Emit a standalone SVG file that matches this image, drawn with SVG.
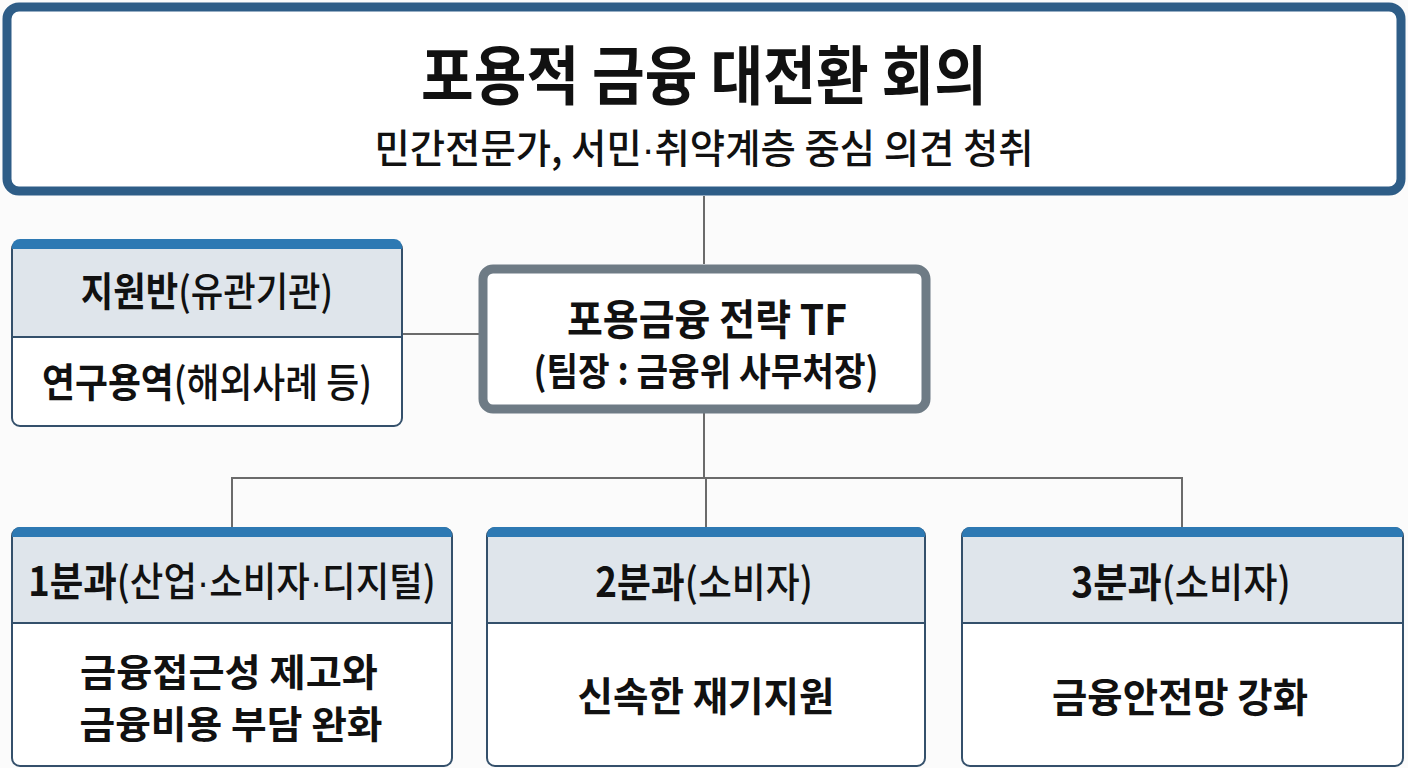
<svg xmlns="http://www.w3.org/2000/svg" width="1408" height="768" viewBox="0 0 1408 768">
<style>
text{font-family:"Noto Sans CJK KR","Noto Sans",sans-serif;fill:#111;text-anchor:middle}
.b{font-weight:700}
.m{font-weight:500}
.dot{font-family:"Liberation Sans",sans-serif}
.frame{fill:#fff;stroke:#34506b;stroke-width:2}
.head{fill:#dfe5eb}
.band{fill:#2d79b3}
.div{stroke:#34506b;stroke-width:2}
.conn{fill:none;stroke:#6b6b6b;stroke-width:2}
</style>
<rect width="1408" height="768" fill="#fbfbfb"/>
<g id="connectors">
<path class="conn" d="M704 196V264"/>
<path class="conn" d="M402 334H479"/>
<path class="conn" d="M704 413V478M232 527V478H1182V527M706 478V527"/>
</g>
<g id="top">
<rect x="7" y="7" width="1394" height="184" rx="12" fill="#fff" stroke="#2e5d87" stroke-width="9"/>
<text class="b" x="704" y="99" font-size="64" textLength="566" lengthAdjust="spacingAndGlyphs">포용적 금융 대전환 회의</text>
<text class="m" transform="translate(704 163) scale(0.96 1)" font-size="40">민간전문가, 서민<tspan class="dot">·</tspan>취약계층 중심 의견 청취</text>
</g>
<g id="support">
<rect class="frame" x="12" y="241" width="390" height="185" rx="8"/>
<path class="head" d="M13 249H401V337H13Z"/>
<path class="band" d="M12 249V247a8 8 0 0 1 8-8H394a8 8 0 0 1 8 8V249Z"/>
<line class="div" x1="12" y1="337" x2="402" y2="337"/>
<text transform="translate(207 306) scale(0.882 1)" font-size="40"><tspan class="b">지원반</tspan><tspan class="m">(유관기관)</tspan></text>
<text transform="translate(207 397) scale(0.895 1)" font-size="40"><tspan class="b">연구용역</tspan><tspan class="m">(해외사례 등)</tspan></text>
</g>
<g id="tf">
<rect x="483" y="269" width="443" height="140" rx="10" fill="#fff" stroke="#6e7b85" stroke-width="9"/>
<text class="b" x="707" y="335" font-size="42" textLength="280" lengthAdjust="spacingAndGlyphs">포용금융 전략 TF</text>
<text class="b" x="706" y="385" font-size="38" textLength="345" lengthAdjust="spacingAndGlyphs">(팀장 : 금융위 사무처장)</text>
</g>
<g id="div1">
<rect class="frame" x="12" y="528" width="440" height="238" rx="8"/>
<path class="head" d="M13 536H451V623H13Z"/>
<path class="band" d="M12 537V535a8 8 0 0 1 8-8H444a8 8 0 0 1 8 8V537Z"/>
<line class="div" x1="12" y1="623" x2="452" y2="623"/>
<text transform="translate(232 596) scale(0.913 1)" font-size="40"><tspan class="b">1분과</tspan><tspan class="m">(산업<tspan class="dot">·</tspan>소비자<tspan class="dot">·</tspan>디지털)</tspan></text>
<text class="b" x="229" y="686" font-size="38" textLength="298" lengthAdjust="spacingAndGlyphs">금융접근성 제고와</text>
<text class="b" x="231" y="738" font-size="38" textLength="303" lengthAdjust="spacingAndGlyphs">금융비용 부담 완화</text>
</g>
<g id="div2">
<rect class="frame" x="487" y="528" width="438" height="238" rx="8"/>
<path class="head" d="M488 536H924V623H488Z"/>
<path class="band" d="M487 537V535a8 8 0 0 1 8-8H917a8 8 0 0 1 8 8V537Z"/>
<line class="div" x1="487" y1="623" x2="925" y2="623"/>
<text transform="translate(704 597) scale(0.922 1)" font-size="40"><tspan class="b">2분과</tspan><tspan class="m">(소비자)</tspan></text>
<text class="b" x="706" y="711" font-size="40" textLength="257" lengthAdjust="spacingAndGlyphs">신속한 재기지원</text>
</g>
<g id="div3">
<rect class="frame" x="962" y="528" width="441" height="238" rx="8"/>
<path class="head" d="M963 536H1402V623H963Z"/>
<path class="band" d="M962 537V535a8 8 0 0 1 8-8H1395a8 8 0 0 1 8 8V537Z"/>
<line class="div" x1="962" y1="623" x2="1403" y2="623"/>
<text transform="translate(1181 597) scale(0.93 1)" font-size="40"><tspan class="b">3분과</tspan><tspan class="m">(소비자)</tspan></text>
<text class="b" x="1180" y="712" font-size="40" textLength="256" lengthAdjust="spacingAndGlyphs">금융안전망 강화</text>
</g>
</svg>
